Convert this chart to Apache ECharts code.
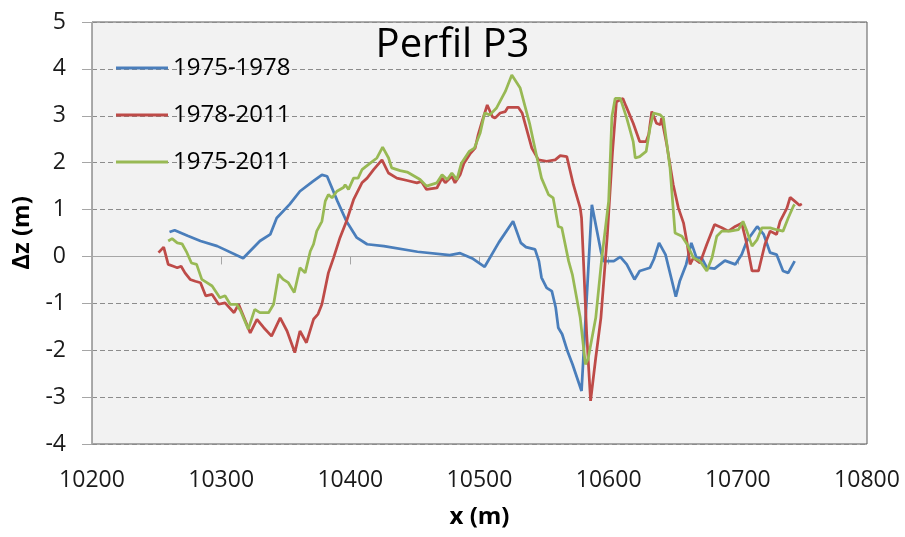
<!DOCTYPE html>
<html>
<head>
<meta charset="utf-8">
<script src="https://cdn.jsdelivr.net/npm/echarts@6/dist/echarts.min.js"></script>
<style>html,body{margin:0;padding:0;background:#fff}#c{width:905px;height:537px}</style>
</head>
<body>
<div id="c"></div>
<script>
const seriesNames = ['1975-1978', '1978-2011', '1975-2011'];
const xTicks = [10200, 10300, 10400, 10500, 10600, 10700, 10800];
const yTicks = [-4, -3, -2, -1, 0, 1, 2, 3, 4, 5];

const blueX = [10260,10264,10274,10284,10297,10317,10330,10338,10343,10353,10361,10371,10378,10382,10390,10397,10405,10413,10426,10452,10477,10485,10495,10504,10515,10526,10532,10536,10543,10546,10548,10552,10556,10559,10561,10564,10568,10572,10579,10587,10594,10596,10604,10609,10614,10620,10624,10632,10635,10639,10644,10652,10655,10660,10664,10668,10672,10676,10682,10690,10698,10703,10707,10715,10720,10725,10730,10735,10739,10744];
const blueY = [0.52,0.56,0.44,0.33,0.22,-0.04,0.33,0.47,0.82,1.11,1.39,1.6,1.74,1.71,1.18,0.75,0.4,0.26,0.22,0.1,0.03,0.07,-0.05,-0.22,0.3,0.75,0.29,0.2,0.15,-0.1,-0.45,-0.67,-0.74,-1.09,-1.52,-1.66,-2.01,-2.3,-2.87,1.1,0.11,-0.1,-0.1,-0.01,-0.17,-0.49,-0.31,-0.24,-0.06,0.29,0.04,-0.86,-0.53,-0.17,0.29,-0.03,-0.03,-0.24,-0.26,-0.09,-0.17,0.04,0.33,0.64,0.47,0.08,0.04,-0.31,-0.35,-0.1];

const redX = [10251.5,10255.5,10259,10263,10266,10269,10272,10276,10280,10284,10288,10293,10298,10303,10310,10313.5,10322.5,10327.7,10333,10339,10345.7,10351,10357,10361,10366,10371.5,10375,10378,10383,10387,10392,10397,10402.5,10409,10413,10418,10424.5,10429.5,10436,10444,10451.5,10455,10459,10467,10471,10473.5,10478.6,10481,10485,10488,10493,10496.6,10499,10502,10506,10510,10512,10516,10520,10522,10530,10533,10540.5,10545.7,10552,10558.6,10562.5,10567.6,10572.7,10578,10579,10580.5,10583,10586,10590,10594,10599,10603,10606,10611,10613.5,10619,10624,10629,10631,10633.4,10634.7,10637,10640,10641,10645,10650,10654,10658,10660.7,10663,10665.6,10670.7,10676,10682,10687.6,10692.7,10698,10703,10707,10711,10716,10721,10725,10730,10732.7,10738,10740.5,10744,10747.7,10749.5];
const redY = [0.08,0.2,-0.17,-0.21,-0.24,-0.21,-0.35,-0.49,-0.53,-0.56,-0.84,-0.81,-1.02,-0.99,-1.2,-1.02,-1.63,-1.34,-1.52,-1.7,-1.31,-1.59,-2.05,-1.59,-1.84,-1.34,-1.23,-1.02,-0.35,-0.03,0.4,0.75,1.21,1.57,1.67,1.85,2.06,1.78,1.67,1.62,1.57,1.6,1.43,1.46,1.67,1.57,1.71,1.57,1.74,1.99,2.2,2.31,2.6,2.88,3.23,2.98,2.95,3.06,3.09,3.18,3.18,3.06,2.31,2.06,2.03,2.06,2.15,2.13,1.53,1.03,0.82,-0.1,-1.66,-3.08,-2.16,-1.31,0.47,2.24,3.3,3.37,3.2,2.84,2.45,2.45,2.6,3.09,3.13,2.84,2.81,2.95,2.38,1.53,1.03,0.71,0.29,-0.17,-0.03,-0.14,0.26,0.68,0.61,0.54,0.64,0.71,0.26,-0.31,-0.31,0.26,0.54,0.47,0.75,1.03,1.26,1.18,1.09,1.12];

const greenX = [10259,10262,10266,10269.7,10273.5,10277,10281,10285,10289,10293,10299,10303,10307,10312,10315,10321,10326,10330,10336.7,10340.6,10344.5,10348,10352,10356.6,10361,10365,10369,10371.5,10374,10378,10380.6,10383,10385.8,10389.6,10394.7,10396,10398.6,10402.5,10406,10409,10415.4,10420.6,10425,10429.6,10432,10438.6,10444,10454,10459,10467,10471,10475,10478.6,10482.5,10486,10492,10496,10500.5,10504,10508,10513,10520,10525,10526,10531.5,10539,10544,10548,10553.4,10557,10561,10563.7,10569,10572,10578,10582,10584,10590,10594.7,10600,10602.5,10605,10609,10614,10619,10620.6,10624,10629,10632,10634.7,10640,10642.4,10647.5,10651.4,10656.7,10660.7,10665.6,10670.7,10676,10680,10683.7,10687.6,10694,10700.5,10704,10707,10711,10715,10718.6,10725,10730,10735,10739,10743,10744];
const greenY = [0.33,0.38,0.29,0.27,0.08,-0.14,-0.17,-0.49,-0.56,-0.63,-0.88,-0.84,-1.02,-1.02,-1.16,-1.55,-1.13,-1.2,-1.2,-1.02,-0.38,-0.49,-0.56,-0.77,-0.24,-0.35,0.11,0.26,0.54,0.75,1.18,1.32,1.25,1.39,1.47,1.53,1.43,1.67,1.67,1.85,1.99,2.1,2.33,2.1,1.89,1.83,1.8,1.64,1.5,1.57,1.74,1.64,1.78,1.64,1.99,2.24,2.31,2.63,3.06,3.02,3.16,3.52,3.87,3.91,3.59,2.81,2.17,1.67,1.32,1.25,0.64,0.61,-0.1,-0.4,-1.31,-2.3,-2.19,-1.31,-0.03,1.18,2.98,3.37,3.37,2.95,2.45,2.1,2.13,2.24,2.74,3.06,3.02,2.95,1.89,0.5,0.43,0.26,-0.03,-0.1,-0.31,-0.03,0.43,0.54,0.54,0.57,0.75,0.54,0.22,0.36,0.61,0.61,0.57,0.54,0.82,1.07,1.11];

const colors = ['#4a7ebb', '#be4b48', '#98b954'];
const zip = (xs, ys) => xs.map((x, i) => [x, ys[i]]);
const allData = [zip(blueX, blueY), zip(redX, redY), zip(greenX, greenY)];

const chart = echarts.init(document.getElementById('c'), null, {renderer: 'canvas'});
chart.setOption({
  animation: false,
  backgroundColor: '#ffffff',
  title: {
    text: 'Perfil P3',
    left: 'center',
    top: 21,
    textStyle: {fontFamily: 'Open Sans', fontSize: 40, fontWeight: 'normal', color: '#000'}
  },
  legend: {
    orient: 'vertical',
    left: 111,
    top: 49,
    icon: 'rect',
    itemWidth: 52,
    itemHeight: 3,
    itemGap: 19,
    data: seriesNames,
    textStyle: {fontFamily: 'Open Sans', fontSize: 24, lineHeight: 28, color: '#000'}
  },
  grid: {
    left: 92, right: 38, top: 22, bottom: 93,
    show: true,
    backgroundColor: '#f2f2f2',
    borderColor: '#595959',
    borderWidth: 1
  },
  xAxis: {
    type: 'value',
    min: xTicks[0], max: xTicks[xTicks.length - 1], interval: 100,
    name: 'x (m)', nameLocation: 'middle', nameGap: 61,
    nameTextStyle: {fontFamily: 'Open Sans', fontSize: 24, fontWeight: 'bold', color: '#000'},
    axisLine: {show: true, lineStyle: {color: '#a6a6a6', width: 1}},
    axisTick: {show: true, length: 8, lineStyle: {color: '#a6a6a6'}},
    axisLabel: {margin: 25, fontFamily: 'Open Sans', fontSize: 23, color: '#1a1a1a', formatter: v => String(v)},
    splitLine: {show: false}
  },
  yAxis: {
    type: 'value',
    min: yTicks[0], max: yTicks[yTicks.length - 1], interval: 1,
    name: 'Δz (m)', nameLocation: 'middle', nameGap: 47,
    nameTextStyle: {fontFamily: 'Open Sans', fontSize: 24, fontWeight: 'bold', color: '#000'},
    axisLine: {show: true, lineStyle: {color: '#a6a6a6', width: 1}},
    axisTick: {show: true, length: 10, lineStyle: {color: '#a6a6a6'}},
    axisLabel: {margin: 26, fontFamily: 'Open Sans', fontSize: 23, color: '#1a1a1a'},
    splitLine: {show: true, lineStyle: {color: '#8c8c8c', type: [5, 3], width: 1}}
  },
  series: seriesNames.map((n, i) => ({
    name: n,
    type: 'line',
    data: allData[i],
    symbol: 'none',
    smooth: false,
    lineStyle: {color: colors[i], width: 2.75},
    itemStyle: {color: colors[i]}
  }))
});
</script>
</body>
</html>
